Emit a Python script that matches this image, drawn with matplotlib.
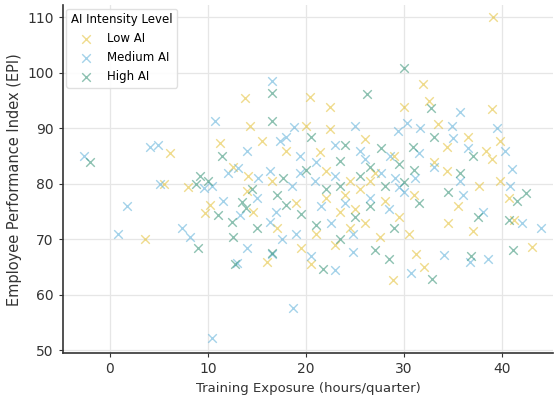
import numpy as np
import matplotlib
matplotlib.use("Agg")
import matplotlib.pyplot as plt

# values (training hours/quarter, EPI)
low_x = [39.1, 31.9, 13.8, 20.4, 22.4, 30.0, 39.0, 14.3, 22.4, 33.5, 39.8, 6.1, 11.2, 15.5,
         34.4, 38.3, 21.4, 14.1, 14.0, 22.0, 24.5, 26.5, 34.4, 37.6, 39.8, 9.7, 10.2, 14.6,
         3.6, 20.5, 28.9, 32.0, 31.2, 34.5, 43.0, 41.2, 40.7, 39.0, 25.0, 24.0, 26.0, 28.0,
         17.0, 19.0, 21.0, 23.0, 27.5, 29.5, 31.0, 33.0, 35.5, 37.0, 18.0, 16.5, 12.5, 8.0,
         5.5, 20.0, 26.0, 29.0, 23.5, 25.5, 30.5, 19.5, 16.0, 24.5, 27.0, 22.0, 36.5, 32.5]
low_y = [110.0, 98.0, 95.4, 95.6, 93.8, 93.8, 93.4, 90.4, 89.8, 90.7, 87.8, 85.5, 87.3, 87.8,
         86.7, 86.0, 85.7, 81.5, 78.8, 82.4, 80.6, 80.6, 82.4, 79.7, 80.6, 74.7, 76.1, 74.9,
         70.0, 65.5, 62.6, 65.0, 67.3, 73.0, 68.6, 73.5, 77.5, 84.5, 75.5, 78.0, 73.0, 77.0,
         72.0, 76.5, 71.0, 69.0, 70.5, 74.0, 78.0, 84.0, 76.0, 71.5, 86.0, 80.5, 83.0, 79.5,
         80.0, 90.5, 88.0, 85.0, 75.0, 79.0, 71.0, 68.5, 66.0, 72.0, 82.0, 77.5, 88.5, 95.0]

med_x = [16.5, 35.7, 10.7, 18.8, 30.3, 34.9, 31.6, 29.4, 35.0, -2.6, 4.1, 4.9, 17.3, 23.0,
         25.5, 28.6, 36.5, 40.3, 19.4, 5.1, 9.6, 10.4, 12.0, 13.1, 15.1, 16.3, 18.6, 19.4,
         20.9, 23.0, 27.6, 29.1, 31.1, 35.7, 40.8, 13.3, 16.3, 16.9, 0.8, 1.7, 7.4, 8.2,
         13.0, 14.0, 10.4, 18.7, 16.5, 24.8, 24.8, 30.7, 34.1, 36.7, 38.5, 38.0, 36.0, 41.0,
         39.5, 33.0, 21.5, 22.5, 24.0, 26.5, 28.5, 30.0, 19.0, 17.5, 20.5, 23.0, 15.0, 11.5,
         26.0, 29.5, 31.5, 21.0, 18.0, 25.0, 14.0, 44.0, 42.0]
med_y = [98.6, 92.9, 91.3, 90.2, 91.0, 90.5, 90.0, 89.6, 88.2, 85.1, 86.6, 87.0, 87.8, 87.0,
         86.0, 85.1, 86.4, 86.0, 85.1, 80.0, 79.2, 79.7, 82.0, 82.8, 81.0, 82.4, 79.7, 82.0,
         80.6, 81.5, 82.0, 81.0, 81.0, 80.6, 79.7, 74.3, 73.1, 74.9, 71.0, 76.0, 72.0, 70.4,
         65.7, 68.4, 52.3, 57.6, 67.3, 67.8, 71.0, 64.0, 67.2, 66.0, 66.5, 75.0, 78.0, 82.6,
         90.0, 83.0, 76.0, 73.0, 76.5, 77.5, 75.5, 78.5, 71.0, 70.0, 67.0, 64.5, 77.5, 77.0,
         84.5, 79.5, 85.5, 84.0, 88.5, 90.5, 86.0, 72.0, 73.0]

high_x = [30.0, 16.5, 26.2, 32.7, 16.5, 27.6, 30.9, -2.0, 11.4, 23.5, 9.2, 8.8, 17.6, 23.5,
          25.5, 28.0, 30.0, 42.4, 11.0, 12.4, 13.9, 13.5, 18.0, 9.0, 12.8, 16.5, 21.7, 32.8,
          36.8, 41.1, 40.7, 41.5, 35.7, 34.5, 37.0, 33.0, 24.0, 20.0, 22.0, 26.5, 29.0, 27.0,
          25.0, 31.5, 19.5, 15.0, 21.0, 23.5, 17.0, 29.5, 26.5, 20.5, 14.5, 12.5, 37.5, 28.5,
          31.0, 10.0]
high_y = [100.8, 96.3, 96.1, 93.6, 91.3, 86.4, 86.7, 84.0, 85.1, 84.2, 81.5, 80.0, 81.0, 79.7,
          81.5, 79.7, 80.3, 78.3, 74.3, 73.1, 75.6, 76.7, 76.1, 68.4, 65.6, 67.5, 64.6, 62.9,
          67.0, 68.1, 73.4, 77.0, 82.0, 78.5, 85.0, 88.5, 87.0, 82.5, 79.0, 76.0, 72.0, 68.0,
          74.0, 76.5, 74.5, 72.0, 72.5, 70.0, 78.0, 83.5, 83.0, 88.5, 79.0, 70.5, 74.0, 66.5,
          82.5, 80.5]

groups = ["Low AI", "Medium AI", "High AI"]
colors = ["#e3bf2f", "#5aaed8", "#2f8f72"]

fig = plt.figure(figsize=(5.56, 3.95), dpi=100)
ax = fig.add_axes([0.113, 0.106, 0.882, 0.881])

series = [(low_x, low_y), (med_x, med_y), (high_x, high_y)]
for (xs, ys), name, c in zip(series, groups, colors):
    ax.scatter(xs, ys, marker="x", s=38, linewidths=1.0, color=c, alpha=0.55, label=name)

ax.set_xlim(-4.8, 45.2)
ax.set_ylim(49.5, 112.2)
ax.set_xticks([0, 10, 20, 30, 40])
ax.set_yticks([50, 60, 70, 80, 90, 100, 110])
ax.grid(True, color="#e6e6e6", linewidth=0.9)
ax.set_axisbelow(True)
for s in ["top", "right"]:
    ax.spines[s].set_visible(False)
for s in ["left", "bottom"]:
    ax.spines[s].set_color("#333333")
    ax.spines[s].set_linewidth(1.2)
ax.tick_params(labelsize=10, colors="#333333", length=3)

ax.set_xlabel("Training Exposure (hours/quarter)", fontsize=9.5, color="#333333")
ax.set_ylabel("Employee Performance Index (EPI)", fontsize=10.5, color="#333333")
# title sits mostly above the canvas, as in the cropped reference
ax.set_title("Training Exposure vs Employee Performance", fontsize=12, pad=7)

leg = ax.legend(title="AI Intensity Level", loc="upper left", fontsize=8.5, title_fontsize=8.5,
                borderaxespad=0.3, framealpha=0.9, edgecolor="#dddddd")

fig.savefig("out.png", dpi=100)
